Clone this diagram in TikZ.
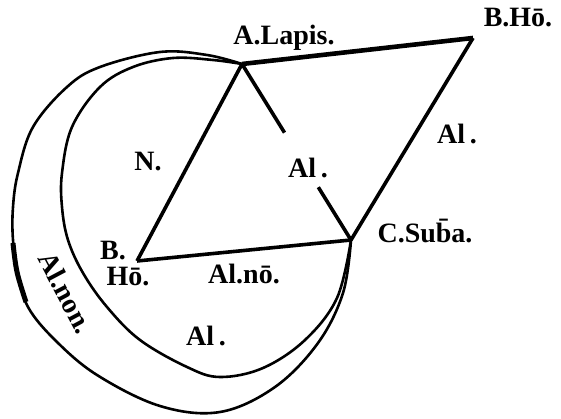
\documentclass[tikz,border=0pt]{standalone}
\usepackage{fontspec}
\setmainfont{Liberation Serif}
\usetikzlibrary{calc}

\begin{document}
\begin{tikzpicture}[
    x=1pt, y=-1pt,
    every node/.style={font=\fontsize{28}{30}\selectfont\bfseries, inner sep=0pt},
    edge/.style={line width=3.6pt, line join=round},
    heavy/.style={line width=4.6pt, line join=round},
    arc/.style={line width=2.6pt, line join=round}
]
\useasboundingbox (0,0) rectangle (561,419);

% Points of the figure
\coordinate (A) at (242,64);
\coordinate (Bh) at (473,38);
\coordinate (C) at (351,240);
\coordinate (Bl) at (137,261);

% Triangle and kite
\draw[edge] (A) -- (Bl);
\draw[edge] (Bl) -- (C);
\draw[edge] (A) -- ($(A)!0.39!(C)$);
\draw[edge] ($(A)!0.70!(C)$) -- (C);
\draw[heavy] (A) -- (Bh);
\draw[edge] (Bh) -- (C);

% Outer arc
\draw[arc] plot[smooth, tension=0.6] coordinates {(A) (207,55) (160,52) (100,67)
    (67,87) (33,127) (18,173) (13,207) (13,240) (18,273) (28,307) (55,340)
    (97,375) (160,406) (220,412) (275,387) (318,343) (343,293) (C)};
% thick part of outer arc
\draw[line width=5pt] plot[smooth, tension=0.6] coordinates {(13,243) (17,272) (26,302)};

% Inner arc
\draw[arc] plot[smooth, tension=0.6] coordinates {(A) (213,60) (173,58) (133,67)
    (100,87) (72,127) (62,173) (62,207) (68,240) (83,273) (107,307) (140,340)
    (187,367) (220,377) (263,368) (305,340) (337,298) (C)};

% Labels
\node (lapis) at (284,38) {A.Lapis.};
\node (bho) at (518,18) {B.H\=o.};
\node (n) at (148,162) {N.};
\node (alm) at (308,168) {Al\,.};
\node (alr) at (457,134) {Al\,.};
\node (csub) at (425,231) {C.Su\={b}a.};
\node (bdot) at (113,251) {B.};
\node (ho) at (128,277) {H\=o.};
\node (alno) at (244,274) {Al.n\=o.};
\node (alb) at (206,336) {Al\,.};
\node[rotate=-62] (alnon) at (66,293) {Al.non.};

\end{tikzpicture}
\end{document}
